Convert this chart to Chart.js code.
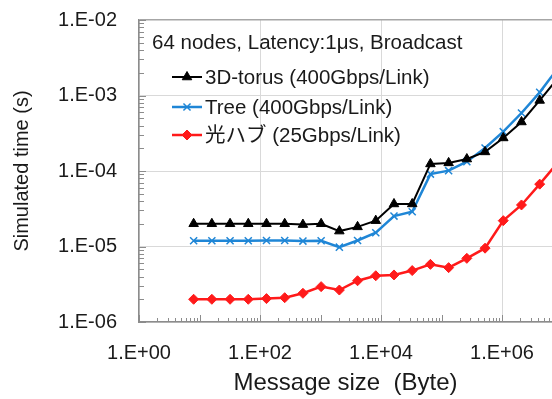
<!DOCTYPE html>
<html>
<head>
<meta charset="utf-8">
<script src="https://cdn.jsdelivr.net/npm/chart.js@4"></script>
<style>
  html, body { margin: 0; padding: 0; background: #fff; }
  #wrap { position: relative; width: 552px; height: 399px; overflow: hidden; }
</style>
</head>
<body>
<div id="wrap"><canvas id="chart"></canvas></div>
<script>
// Message sizes (Byte)
const sizes = [8, 16, 32, 64, 128, 256, 512, 1024, 2048, 4096, 8192, 16384, 32768,
               65536, 131072, 262144, 524288, 1048576, 2097152, 4194304, 8388608];

// Simulated time (s)
const torus = [2.0e-5, 2.0e-5, 2.0e-5, 2.0e-5, 2.0e-5, 2.0e-5, 1.95e-5, 2.0e-5, 1.6e-5, 1.82e-5,
               2.2e-5, 3.66e-5, 3.66e-5, 1.24e-4, 1.28e-4, 1.44e-4, 1.79e-4, 2.74e-4, 4.46e-4,
               8.6e-4, 1.7e-3];
const tree = [1.19e-5, 1.19e-5, 1.19e-5, 1.19e-5, 1.2e-5, 1.2e-5, 1.18e-5, 1.19e-5, 9.8e-6, 1.2e-5,
              1.52e-5, 2.53e-5, 2.89e-5, 9.1e-5, 1.01e-4, 1.33e-4, 2.02e-4, 3.32e-4, 5.86e-4,
              1.1e-3, 2.3e-3];
const hub = [2.0e-6, 2.0e-6, 2.0e-6, 2.0e-6, 2.04e-6, 2.1e-6, 2.4e-6, 2.94e-6, 2.65e-6, 3.52e-6,
             4.1e-6, 4.2e-6, 4.8e-6, 5.8e-6, 5.25e-6, 6.97e-6, 9.5e-6, 2.2e-5, 3.55e-5,
             6.7e-5, 1.3e-4];

const seriesNames = ['3D-torus (400Gbps/Link)', 'Tree (400Gbps/Link)', '光ハブ (25Gbps/Link)'];
const legendTitle = '64 nodes, Latency:1\u03bcs, Broadcast';

// Tick labels
const xTickValues = [1, 100, 1e4, 1e6];
const xTickLabels = ['1.E+00', '1.E+02', '1.E+04', '1.E+06'];
const yTickValues = [1e-6, 1e-5, 1e-4, 1e-3, 1e-2];
const yTickLabels = ['1.E-06', '1.E-05', '1.E-04', '1.E-03', '1.E-02'];

const FONT = '"Liberation Sans", Arial, "Noto Sans CJK JP", sans-serif';

function toPoints(vals) {
    return sizes.map((s, i) => ({ x: s, y: vals[i] }));
}

// small inward ticks like the original (Excel style)
const innerTicks = {
    id: 'innerTicks',
    afterDraw(chart) {
        const ctx = chart.ctx;
        const area = chart.chartArea;
        const xs = chart.scales.x, ys = chart.scales.y;
        ctx.save();
        ctx.strokeStyle = '#8c8c8c';
        ctx.lineWidth = 1;
        for (let d = -6; d <= -2; d++) {
            for (let m = 1; m <= 9; m++) {
                const v = m * Math.pow(10, d);
                if (v < ys.min || v > ys.max) continue;
                const py = Math.round(ys.getPixelForValue(v)) + 0.5;
                const len = m === 1 ? 7 : 5;
                ctx.beginPath();
                ctx.moveTo(area.left, py);
                ctx.lineTo(area.left + len, py);
                ctx.stroke();
            }
        }
        for (let d = 0; d <= 7; d++) {
            for (let m = 1; m <= 9; m++) {
                const v = m * Math.pow(10, d);
                if (v < xs.min || v > xs.max) continue;
                const px = Math.round(xs.getPixelForValue(v)) + 0.5;
                const len = m === 1 ? 7 : 4;
                ctx.beginPath();
                ctx.moveTo(px, area.bottom);
                ctx.lineTo(px, area.bottom - len);
                ctx.stroke();
            }
        }
        ctx.restore();
    }
};

// legend drawn inside the plot area
const innerLegend = {
    id: 'innerLegend',
    afterDraw(chart) {
        const ctx = chart.ctx;
        const left = chart.chartArea.left;
        ctx.save();
        ctx.fillStyle = '#1a1a1a';
        ctx.textBaseline = 'middle';
        ctx.font = '20.5px ' + FONT;
        ctx.fillText(legendTitle, left + 13, 43);
        const rows = [77, 107, 135];
        chart.data.datasets.forEach((ds, i) => {
            const y = rows[i];
            ctx.strokeStyle = ds.borderColor;
            ctx.lineWidth = ds.borderWidth;
            ctx.beginPath();
            ctx.moveTo(left + 33, y);
            ctx.lineTo(left + 63, y);
            ctx.stroke();
            ctx.fillStyle = ds.pointBackgroundColor;
            ctx.strokeStyle = ds.pointBorderColor;
            ctx.lineWidth = ds.pointBorderWidth || 1;
            Chart.helpers.drawPoint(ctx, {
                pointStyle: ds.pointStyle,
                radius: ds.pointRadius,
                borderWidth: ds.pointBorderWidth || 1
            }, left + 48, y);
            ctx.fillStyle = '#1a1a1a';
            ctx.fillText(seriesNames[i], left + 66, y + 1);
        });
        ctx.restore();
    }
};

const ctx = document.getElementById('chart').getContext('2d');
new Chart(ctx, {
    type: 'line',
    data: {
        datasets: [{
            label: seriesNames[0],
            data: toPoints(torus),
            borderColor: '#000000',
            backgroundColor: '#000000',
            pointBackgroundColor: '#000000',
            pointBorderColor: '#000000',
            borderWidth: 2,
            pointStyle: 'triangle',
            pointRadius: 5.5,
            pointBorderWidth: 1
        }, {
            label: seriesNames[1],
            data: toPoints(tree),
            borderColor: '#1f86d6',
            backgroundColor: '#1f86d6',
            pointBackgroundColor: '#1f86d6',
            pointBorderColor: '#1f86d6',
            borderWidth: 2.5,
            pointStyle: 'crossRot',
            pointRadius: 5,
            pointBorderWidth: 1.5
        }, {
            label: seriesNames[2],
            data: toPoints(hub),
            borderColor: '#ff1a1a',
            backgroundColor: '#ff1a1a',
            pointBackgroundColor: '#ff1a1a',
            pointBorderColor: '#ff1a1a',
            borderWidth: 2.5,
            pointStyle: 'rectRot',
            pointRadius: 5,
            pointBorderWidth: 1
        }]
    },
    options: {
        responsive: true,
        maintainAspectRatio: false,
        animation: false,
        layout: { autoPadding: false, padding: { top: 20, right: 0, left: 0, bottom: 0 } },
        plugins: {
            legend: { display: false },
            tooltip: { enabled: false }
        },
        scales: {
            x: {
                type: 'logarithmic',
                min: 1,
                max: Math.pow(10, 6.826),
                afterBuildTicks: (scale) => {
                    scale.ticks = xTickValues.map(v => ({ value: v }));
                },
                afterFit: (scale) => {
                    scale.height = 77;
                    scale.paddingLeft = 0;
                    scale.paddingRight = 0;
                },
                ticks: {
                    autoSkip: false,
                    maxRotation: 0,
                    padding: 19,
                    color: '#1a1a1a',
                    font: { family: FONT, size: 20 },
                    callback: (v) => {
                        const i = xTickValues.indexOf(v);
                        return i >= 0 ? xTickLabels[i] : '';
                    }
                },
                grid: {
                    drawTicks: false,
                    color: '#d9d9d9',
                    lineWidth: 1
                },
                border: { display: true, color: '#8c8c8c', width: 1.5 },
                title: {
                    display: true,
                    text: 'Message size  (Byte)',
                    color: '#1a1a1a',
                    font: { family: FONT, size: 24 },
                    padding: { top: 0, bottom: 1 }
                }
            },
            y: {
                type: 'logarithmic',
                min: 1e-6,
                max: 1e-2,
                afterBuildTicks: (scale) => {
                    scale.ticks = yTickValues.map(v => ({ value: v }));
                },
                afterFit: (scale) => {
                    scale.width = 139;
                    scale.paddingTop = 0;
                    scale.paddingBottom = 0;
                },
                ticks: {
                    autoSkip: false,
                    padding: 22,
                    color: '#1a1a1a',
                    font: { family: FONT, size: 20 },
                    callback: (v) => {
                        const i = yTickValues.indexOf(v);
                        return i >= 0 ? yTickLabels[i] : '';
                    }
                },
                grid: {
                    drawTicks: false,
                    color: (c) => (c.tick && c.tick.value === 1e-2 ? '#a6a6a6' : '#d9d9d9'),
                    lineWidth: (c) => (c.tick && c.tick.value === 1e-2 ? 1.5 : 1)
                },
                border: { display: true, color: '#8c8c8c', width: 1.5 },
                title: {
                    display: true,
                    text: 'Simulated time (s)',
                    color: '#1a1a1a',
                    font: { family: FONT, size: 20 },
                    padding: { top: 10, bottom: 0 }
                }
            }
        }
    },
    plugins: [innerTicks, innerLegend]
});
</script>
</body>
</html>
